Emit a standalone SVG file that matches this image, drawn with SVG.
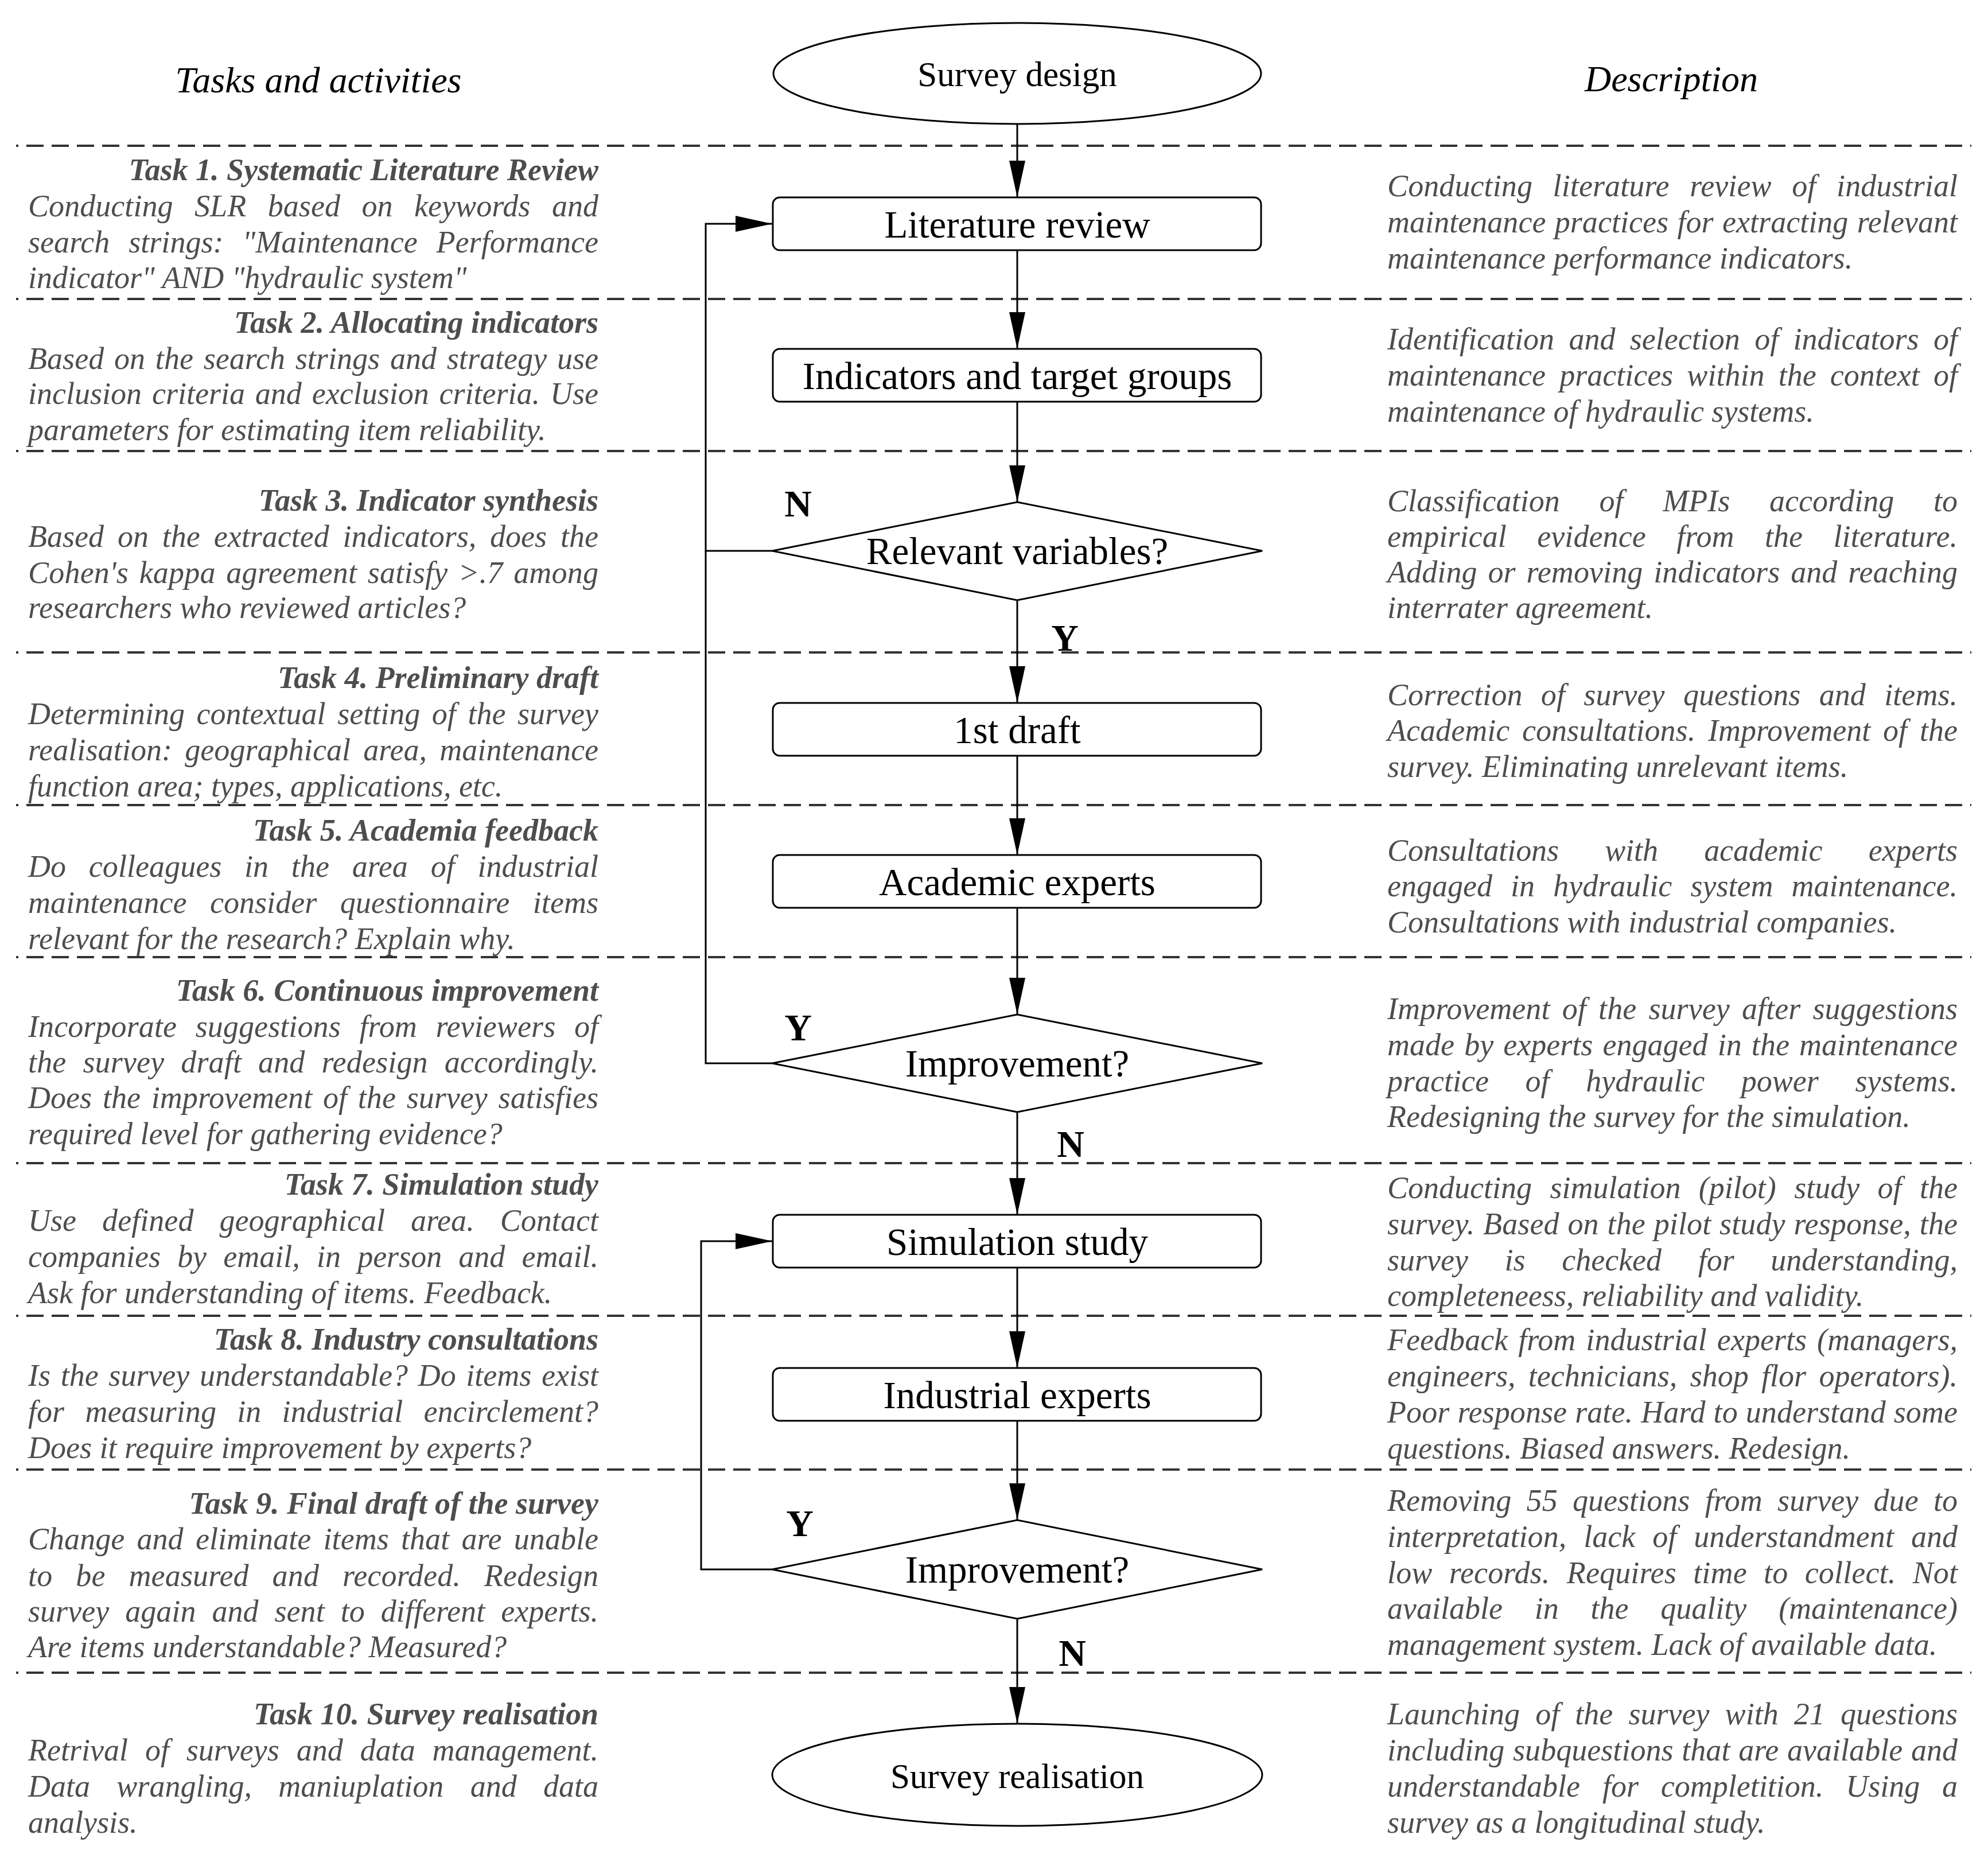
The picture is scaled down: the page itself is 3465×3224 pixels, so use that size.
<svg xmlns="http://www.w3.org/2000/svg" width="3465" height="3224" viewBox="0 0 3465 3224">
<style>
.hd{font-family:"Liberation Serif","Times New Roman",serif;font-style:italic;font-size:64px;fill:#000;text-anchor:middle}
.tk{font-family:"Liberation Serif","Times New Roman",serif;font-style:italic;font-weight:bold;font-size:54px;fill:#4d4d4d;text-anchor:end}
.b{font-family:"Liberation Serif","Times New Roman",serif;font-style:italic;font-size:54px;fill:#4d4d4d}
.nl{font-family:"Liberation Serif","Times New Roman",serif;font-size:67px;fill:#000;text-anchor:middle}
.tl{font-family:"Liberation Serif","Times New Roman",serif;font-size:61px;fill:#000;text-anchor:middle}
.yn{font-family:"Liberation Serif","Times New Roman",serif;font-weight:bold;font-size:66px;fill:#000;text-anchor:middle}
.shape{fill:#fff;stroke:#000;stroke-width:3}
.sep{stroke:#333;stroke-width:4;stroke-dasharray:30 14;stroke-dashoffset:26;fill:none}
.con{stroke:#000;stroke-width:3;fill:none}
.arr{stroke:#000;stroke-width:3;fill:none;marker-end:url(#ah)}
</style>
<defs>
<marker id="ah" viewBox="0 0 64 28" markerWidth="64" markerHeight="28" refX="64" refY="14" orient="auto" markerUnits="userSpaceOnUse">
<path d="M0,0 L64,14 L0,28 Z" fill="#000"/>
</marker>
</defs>
<rect width="3465" height="3224" fill="#fff"/>

<g id="separators">
<line class="sep" x1="28" y1="254" x2="3436" y2="254"/>
<line class="sep" x1="28" y1="521" x2="3436" y2="521"/>
<line class="sep" x1="28" y1="786" x2="3436" y2="786"/>
<line class="sep" x1="28" y1="1137" x2="3436" y2="1137"/>
<line class="sep" x1="28" y1="1403" x2="3436" y2="1403"/>
<line class="sep" x1="28" y1="1668" x2="3436" y2="1668"/>
<line class="sep" x1="28" y1="2027" x2="3436" y2="2027"/>
<line class="sep" x1="28" y1="2293" x2="3436" y2="2293"/>
<line class="sep" x1="28" y1="2561" x2="3436" y2="2561"/>
<line class="sep" x1="28" y1="2915" x2="3436" y2="2915"/>
</g>

<g id="headers">
<text class="hd" x="555" y="161">Tasks and activities</text>
<text class="hd" x="2913" y="159">Description</text>
</g>

<g id="connectors">
<line class="arr" x1="1773" y1="216" x2="1773" y2="344"/>
<line class="arr" x1="1773" y1="436" x2="1773" y2="608"/>
<line class="arr" x1="1773" y1="700" x2="1773" y2="875"/>
<line class="arr" x1="1773" y1="1046" x2="1773" y2="1225"/>
<line class="arr" x1="1773" y1="1317" x2="1773" y2="1490"/>
<line class="arr" x1="1773" y1="1582" x2="1773" y2="1768"/>
<line class="arr" x1="1773" y1="1938" x2="1773" y2="2117"/>
<line class="arr" x1="1773" y1="2209" x2="1773" y2="2384"/>
<line class="arr" x1="1773" y1="2476" x2="1773" y2="2649"/>
<line class="arr" x1="1773" y1="2821" x2="1773" y2="3004"/>
<polyline class="arr" points="1346,960 1230,960 1230,390 1346,390"/>
<polyline class="con" points="1346,1853 1230,1853 1230,960"/>
<polyline class="arr" points="1346,2735 1222,2735 1222,2163 1346,2163"/>
<text class="yn" x="1391" y="900">N</text>
<text class="yn" x="1856" y="1134">Y</text>
<text class="yn" x="1391" y="1813">Y</text>
<text class="yn" x="1866" y="2016">N</text>
<text class="yn" x="1394" y="2677">Y</text>
<text class="yn" x="1869" y="2903">N</text>
</g>

<g id="n-start"><ellipse class="shape" cx="1773" cy="128" rx="425" ry="88"/><text class="tl" x="1773" y="150">Survey design</text></g>
<g id="n-literature"><rect class="shape" x="1347" y="344" width="851" height="92" rx="12"/><text class="nl" x="1773" y="414">Literature review</text></g>
<g id="n-indicators"><rect class="shape" x="1347" y="608" width="851" height="92" rx="12"/><text class="nl" x="1773" y="678">Indicators and target groups</text></g>
<g id="n-relevant"><polygon class="shape" points="1773,875 2200,960 1773,1046 1346,960"/><text class="nl" x="1773" y="983">Relevant variables?</text></g>
<g id="n-draft"><rect class="shape" x="1347" y="1225" width="851" height="92" rx="12"/><text class="nl" x="1773" y="1295">1st draft</text></g>
<g id="n-academic"><rect class="shape" x="1347" y="1490" width="851" height="92" rx="12"/><text class="nl" x="1773" y="1560">Academic experts</text></g>
<g id="n-improve1"><polygon class="shape" points="1773,1768 2200,1853 1773,1938 1346,1853"/><text class="nl" x="1773" y="1876">Improvement?</text></g>
<g id="n-simulation"><rect class="shape" x="1347" y="2117" width="851" height="92" rx="12"/><text class="nl" x="1773" y="2187">Simulation study</text></g>
<g id="n-industrial"><rect class="shape" x="1347" y="2384" width="851" height="92" rx="12"/><text class="nl" x="1773" y="2454">Industrial experts</text></g>
<g id="n-improve2"><polygon class="shape" points="1773,2649 2200,2735 1773,2821 1346,2735"/><text class="nl" x="1773" y="2758">Improvement?</text></g>
<g id="n-end"><ellipse class="shape" cx="1773" cy="3093" rx="427" ry="89"/><text class="tl" x="1773" y="3116">Survey realisation</text></g>

<g id="tasks">
<text class="tk" x="1043" y="314">Task 1. Systematic Literature Review</text>
<text class="b" x="49" y="377" textLength="994" word-spacing="23.9">Conducting SLR based on keywords and</text>
<text class="b" x="49" y="440" textLength="994" word-spacing="19.3">search strings: "Maintenance Performance</text>
<text class="b" x="49" y="502">indicator" AND "hydraulic system"</text>

<text class="tk" x="1043" y="580">Task 2. Allocating indicators</text>
<text class="b" x="49" y="643" textLength="994" word-spacing="4.2">Based on the search strings and strategy use</text>
<text class="b" x="49" y="704" textLength="994" word-spacing="4.4">inclusion criteria and exclusion criteria. Use</text>
<text class="b" x="49" y="767">parameters for estimating item reliability.</text>

<text class="tk" x="1043" y="890">Task 3. Indicator synthesis</text>
<text class="b" x="49" y="953" textLength="994" word-spacing="10.4">Based on the extracted indicators, does the</text>
<text class="b" x="49" y="1016" textLength="994" word-spacing="4.9">Cohen's kappa agreement satisfy &gt;.7 among</text>
<text class="b" x="49" y="1077">researchers who reviewed articles?</text>

<text class="tk" x="1043" y="1199">Task 4. Preliminary draft</text>
<text class="b" x="49" y="1262" textLength="994" word-spacing="7.1">Determining contextual setting of the survey</text>
<text class="b" x="49" y="1325" textLength="994" word-spacing="8.4">realisation: geographical area, maintenance</text>
<text class="b" x="49" y="1388">function area; types, applications, etc.</text>

<text class="tk" x="1043" y="1465">Task 5. Academia feedback</text>
<text class="b" x="49" y="1528" textLength="994" word-spacing="26.2">Do colleagues in the area of industrial</text>
<text class="b" x="49" y="1591" textLength="994" word-spacing="26.9">maintenance consider questionnaire items</text>
<text class="b" x="49" y="1654">relevant for the research? Explain why.</text>

<text class="tk" x="1043" y="1744">Task 6. Continuous improvement</text>
<text class="b" x="49" y="1807" textLength="994" word-spacing="19">Incorporate suggestions from reviewers of</text>
<text class="b" x="49" y="1869" textLength="994" word-spacing="15.2">the survey draft and redesign accordingly.</text>
<text class="b" x="49" y="1931" textLength="994" word-spacing="5.2">Does the improvement of the survey satisfies</text>
<text class="b" x="49" y="1994">required level for gathering evidence?</text>

<text class="tk" x="1043" y="2082">Task 7. Simulation study</text>
<text class="b" x="49" y="2145" textLength="994" word-spacing="31.4">Use defined geographical area. Contact</text>
<text class="b" x="49" y="2208" textLength="994" word-spacing="15.7">companies by email, in person and email.</text>
<text class="b" x="49" y="2271">Ask for understanding of items. Feedback.</text>

<text class="tk" x="1043" y="2352">Task 8. Industry consultations</text>
<text class="b" x="49" y="2415" textLength="994" word-spacing="4.2">Is the survey understandable? Do items exist</text>
<text class="b" x="49" y="2478" textLength="994" word-spacing="22.7">for measuring in industrial encirclement?</text>
<text class="b" x="49" y="2541">Does it require improvement by experts?</text>

<text class="tk" x="1043" y="2638">Task 9. Final draft of the survey</text>
<text class="b" x="49" y="2700" textLength="994" word-spacing="7.7">Change and eliminate items that are unable</text>
<text class="b" x="49" y="2764" textLength="994" word-spacing="27.2">to be measured and recorded. Redesign</text>
<text class="b" x="49" y="2826" textLength="994" word-spacing="14.4">survey again and sent to different experts.</text>
<text class="b" x="49" y="2888">Are items understandable? Measured?</text>

<text class="tk" x="1043" y="3005">Task 10. Survey realisation</text>
<text class="b" x="49" y="3068" textLength="994" word-spacing="16.4">Retrival of surveys and data management.</text>
<text class="b" x="49" y="3131" textLength="994" word-spacing="32.8">Data wrangling, maniuplation and data</text>
<text class="b" x="49" y="3194">analysis.</text>
</g>

<g id="descriptions">
<text class="b" x="2418" y="342" textLength="994" word-spacing="22">Conducting literature review of industrial</text>
<text class="b" x="2418" y="405" textLength="994" word-spacing="1.8">maintenance practices for extracting relevant</text>
<text class="b" x="2418" y="468">maintenance performance indicators.</text>

<text class="b" x="2418" y="609" textLength="994" word-spacing="11.9">Identification and selection of indicators of</text>
<text class="b" x="2418" y="672" textLength="994" word-spacing="10.7">maintenance practices within the context of</text>
<text class="b" x="2418" y="735">maintenance of hydraulic systems.</text>

<text class="b" x="2418" y="891" textLength="994" word-spacing="55">Classification of MPIs according to</text>
<text class="b" x="2418" y="953" textLength="994" word-spacing="39.7">empirical evidence from the literature.</text>
<text class="b" x="2418" y="1015" textLength="994" word-spacing="5.3">Adding or removing indicators and reaching</text>
<text class="b" x="2418" y="1077">interrater agreement.</text>

<text class="b" x="2418" y="1229" textLength="994" word-spacing="18.8">Correction of survey questions and items.</text>
<text class="b" x="2418" y="1291" textLength="994" word-spacing="8.2">Academic consultations. Improvement of the</text>
<text class="b" x="2418" y="1354">survey. Eliminating unrelevant items.</text>

<text class="b" x="2418" y="1500" textLength="994" word-spacing="66.9">Consultations with academic experts</text>
<text class="b" x="2418" y="1562" textLength="994" word-spacing="18.7">engaged in hydraulic system maintenance.</text>
<text class="b" x="2418" y="1625">Consultations with industrial companies.</text>

<text class="b" x="2418" y="1776" textLength="994" word-spacing="7.7">Improvement of the survey after suggestions</text>
<text class="b" x="2418" y="1839" textLength="994" word-spacing="3.7">made by experts engaged in the maintenance</text>
<text class="b" x="2418" y="1902" textLength="994" word-spacing="50">practice of hydraulic power systems.</text>
<text class="b" x="2418" y="1964">Redesigning the survey for the simulation.</text>

<text class="b" x="2418" y="2088" textLength="994" word-spacing="17.9">Conducting simulation (pilot) study of the</text>
<text class="b" x="2418" y="2151" textLength="994" word-spacing="1.2">survey. Based on the pilot study response, the</text>
<text class="b" x="2418" y="2214" textLength="994" word-spacing="50">survey is checked for understanding,</text>
<text class="b" x="2418" y="2276">completeneess, reliability and validity.</text>

<text class="b" x="2418" y="2353" textLength="994" word-spacing="4.4">Feedback from industrial experts (managers,</text>
<text class="b" x="2418" y="2416" textLength="994" word-spacing="8.9">engineers, technicians, shop flor operators).</text>
<text class="b" x="2418" y="2479" textLength="994" word-spacing="0.4">Poor response rate. Hard to understand some</text>
<text class="b" x="2418" y="2542">questions. Biased answers. Redesign.</text>

<text class="b" x="2418" y="2633" textLength="994" word-spacing="12.7">Removing 55 questions from survey due to</text>
<text class="b" x="2418" y="2696" textLength="994" word-spacing="16.4">interpretation, lack of understandment and</text>
<text class="b" x="2418" y="2759" textLength="994" word-spacing="15.7">low records. Requires time to collect. Not</text>
<text class="b" x="2418" y="2821" textLength="994" word-spacing="42.3">available in the quality (maintenance)</text>
<text class="b" x="2418" y="2884">management system. Lack of available data.</text>

<text class="b" x="2418" y="3005" textLength="994" word-spacing="13.7">Launching of the survey with 21 questions</text>
<text class="b" x="2418" y="3068" textLength="994" word-spacing="1.1">including subquestions that are available and</text>
<text class="b" x="2418" y="3131" textLength="994" word-spacing="25.3">understandable for completition. Using a</text>
<text class="b" x="2418" y="3194">survey as a longitudinal study.</text>
</g>
</svg>
